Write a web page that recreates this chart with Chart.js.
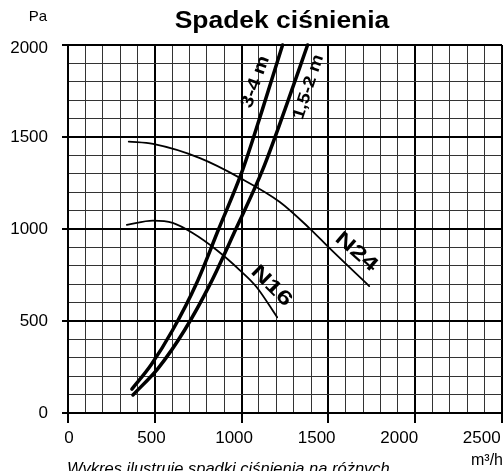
<!DOCTYPE html>
<html>
<head>
<meta charset="utf-8">
<script src="https://cdn.jsdelivr.net/npm/chart.js@4/dist/chart.umd.min.js"></script>
<style>
    html, body { margin: 0; padding: 0; background: #fff; overflow: hidden; }
    canvas { display: block; }
</style>
</head>
<body>
<canvas id="wykres" width="503" height="471"></canvas>
<script>
// Dane (przepływ m3/h, spadek ciśnienia Pa)
const flow34 = [368, 480, 603, 740, 868, 1006, 1120, 1236];
const pres34 = [130, 264, 451, 704, 1000, 1321, 1650, 2000];

const flow152 = [374, 520, 672, 820, 967, 1121, 1250, 1380];
const pres152 = [98, 244, 451, 703, 1000, 1321, 1650, 2000];

const flowN24 = [350, 490, 760, 990, 1220, 1390, 1505, 1735];
const presN24 = [1475, 1462, 1385, 1278, 1147, 1005, 897, 690];

const flowN16 = [339, 489, 603, 718, 856, 989, 1086, 1205];
const presN16 = [1022, 1045, 1033, 978, 886, 777, 685, 520];

const xTicks = [0, 500, 1000, 1500, 2000, 2500];
const yTicks = [0, 500, 1000, 1500, 2000];

function toPoints(xs, ys) {
    return xs.map((x, i) => ({ x: x, y: ys[i] }));
}

// Rysowanie tekstu z obrotem i rozciągnięciem w poziomie
function drawText(ctx, text, x, y, font, align, baseline, angle, stretch) {
    ctx.save();
    ctx.translate(x, y);
    ctx.rotate((angle || 0) * Math.PI / 180);
    ctx.scale(stretch || 1, 1);
    ctx.font = font;
    ctx.textAlign = align;
    ctx.textBaseline = baseline;
    ctx.fillStyle = '#000';
    ctx.fillText(text, 0, 0);
    ctx.restore();
}

// Podpisy krzywych (w jednostkach danych)
const curveLabels = [
    { text: '3-4 m', x: 1080, y: 1800, angle: -70, size: 18, stretch: 1.15 },
    { text: '1,5-2 m', x: 1385, y: 1772, angle: -72, size: 17, stretch: 1.15 },
    { text: 'N24', x: 1661, y: 875, angle: 41, size: 20, stretch: 1.35 },
    { text: 'N16', x: 1172, y: 690, angle: 45, size: 20, stretch: 1.35 }
];

const decorPlugin = {
    id: 'decor',
    afterDraw(chart) {
        const ctx = chart.ctx;
        const xs = chart.scales.x;
        const ys = chart.scales.y;
        const area = chart.chartArea;
        const font = '17px "Liberation Sans", Arial, sans-serif';

        // kreski podziałki na zewnątrz
        ctx.save();
        ctx.strokeStyle = '#000';
        ctx.lineWidth = 2;
        yTicks.forEach(v => {
            const py = Math.round(ys.getPixelForValue(v));
            ctx.beginPath();
            ctx.moveTo(area.left - 6, py);
            ctx.lineTo(area.left, py);
            ctx.stroke();
        });
        xTicks.forEach(v => {
            const px = Math.round(xs.getPixelForValue(v));
            ctx.beginPath();
            ctx.moveTo(px, area.bottom);
            ctx.lineTo(px, area.bottom + 10);
            ctx.stroke();
        });
        ctx.restore();

        // etykiety osi Y
        yTicks.forEach(v => {
            const py = ys.getPixelForValue(v) + (v === 2000 ? 3 : 0);
            drawText(ctx, String(v), 48, py, font, 'right', 'middle');
        });

        // etykiety osi X (w oryginale nieco ściśnięte względem siatki)
        xTicks.forEach(v => {
            const px = area.left + 1 + (xs.getPixelForValue(v) - area.left) * 0.951;
            drawText(ctx, String(v), px, 438, font, 'center', 'middle');
        });

        drawText(ctx, 'Pa', 47, 17, '15px "Liberation Sans", Arial, sans-serif', 'right', 'middle');
        drawText(ctx, 'm³/h', 503, 461, '16px "Liberation Sans", Arial, sans-serif', 'right', 'middle');

        // tytuł
        drawText(ctx, 'Spadek ciśnienia', 282, 28, 'bold 23px "Liberation Sans", Arial, sans-serif', 'center', 'alphabetic', 0, 1.15);

        // podpis pod wykresem
        drawText(ctx, 'Wykres ilustruje spadki ciśnienia na różnych', 67, 474, 'italic 16.5px "Liberation Sans", Arial, sans-serif', 'left', 'alphabetic');

        // podpisy krzywych
        curveLabels.forEach(l => {
            const px = xs.getPixelForValue(l.x);
            const py = ys.getPixelForValue(l.y);
            drawText(ctx, l.text, px, py, 'bold ' + l.size + 'px "Liberation Sans", Arial, sans-serif', 'center', 'middle', l.angle, l.stretch);
        });
    }
};

const gridStyle = {
    color: c => (c.tick && c.tick.value % 500 === 0) ? '#000' : '#333',
    lineWidth: c => (c.tick && c.tick.value % 500 === 0) ? 2 : 1,
    drawTicks: false
};

new Chart(document.getElementById('wykres'), {
    type: 'scatter',
    data: {
        datasets: [
            { label: '3-4 m', data: toPoints(flow34, pres34), borderWidth: 3.5 },
            { label: '1,5-2 m', data: toPoints(flow152, pres152), borderWidth: 3.5 },
            { label: 'N24', data: toPoints(flowN24, presN24), borderWidth: 1.8 },
            { label: 'N16', data: toPoints(flowN16, presN16), borderWidth: 1.8 }
        ].map(d => Object.assign(d, {
            showLine: true,
            borderColor: '#000',
            pointRadius: 0,
            cubicInterpolationMode: 'monotone',
            borderCapStyle: 'round',
            clip: false
        }))
    },
    options: {
        responsive: false,
        animation: false,
        devicePixelRatio: 1,
        layout: { padding: { left: 68, right: 1, top: 45, bottom: 58 } },
        plugins: {
            legend: { display: false },
            tooltip: { enabled: false },
            title: { display: false }
        },
        scales: {
            x: {
                type: 'linear',
                min: 0,
                max: 2500,
                ticks: { stepSize: 100, display: false },
                grid: gridStyle,
                border: { display: true, color: '#000', width: 2 }
            },
            y: {
                type: 'linear',
                min: 0,
                max: 2000,
                ticks: { stepSize: 100, display: false },
                grid: gridStyle,
                border: { display: true, color: '#000', width: 2 }
            }
        }
    },
    plugins: [decorPlugin]
});
</script>
</body>
</html>
